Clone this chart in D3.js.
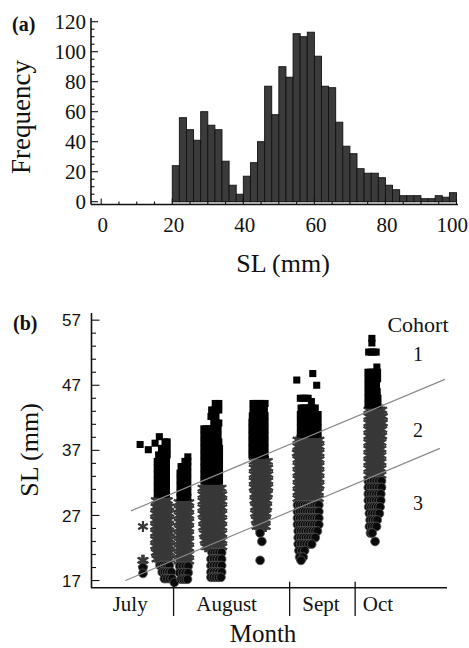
<!DOCTYPE html>
<html>
<head>
<meta charset="utf-8">
<script src="https://cdn.jsdelivr.net/npm/d3@7"></script>
<style>
  body { margin: 0; background: #fff; }
  text { fill: #111; }
</style>
</head>
<body>
<script>
// ---- panel (a): length frequency, 2 mm bins from 20 mm
const binStart = [20,22,24,26,28,30,32,34,36,38,40,42,44,46,48,50,52,54,56,58,
                  60,62,64,66,68,70,72,74,76,78,80,82,84,86,88,90,92,94,96,98];
const frequency = [24,56,48,41,60,51,48,27,11,5,17,26,40,77,58,90,83,112,110,113,
                   97,77,76,53,37,32,22,19,19,16,11,8,4,4,4,2,2,4,3,6];
const freqTicks = [0,20,40,60,80,100,120];
const slTicks = [0,20,40,60,80,100];

// ---- panel (b): SL by sampling position, rows are [SL, dxFrom, dxTo]
const sampleAt = [14.6, 19.4, 26.1, 34.3, 47.5, 61.0, 79.2];
const cohort1 = [
  [[37.9,-0.8,-0.8],[37.1,1.5,1.5]],
  [[39.1,-0.2,-0.2],[38.1,-1.4,-1.4],[38.3,1.4,2],[37.3,0.4,2],[36.3,-0.4,2],[35.3,-0.8,1.8],[34.3,-0.8,1.8],
   [33.3,-0.8,1.8],[32.3,-0.8,1.8],[31.3,-0.8,1.8],[30.3,-0.8,1.8]],
  [[36,1.1,1.1],[35.3,0.3,1.1],[34.5,-0.8,1.1],[33.5,-1.1,1.1],[32.5,-1.1,1.1],[31.5,-1.1,1.1],
   [30.5,-1.1,1.1],[29.8,-1.1,1.1]],
  [[44.2,0.6,1.6],[43.2,-0.4,1.6],[42.2,-0.6,0.8],[41.2,0.2,1.6],[40.3,-2.6,1.4],[39.3,-2.6,1.4],
   [38.3,-2.6,1.6],[37.3,-2.6,1.8],[36.3,-2.6,1.8],[35.3,-2.6,1.8],[34.3,-2.6,1.8],[33.3,-2.6,1.8],[32.3,-2.6,1.8]],
  [[44.2,-2,1.4],[43.2,-2,-0.4],[43.2,1.2,1.4],[42.3,-2.2,1.4],[41.3,-2.3,1.4],[40.3,-2.3,1.4],
   [39.3,-2.3,1.4],[38.3,-2.3,1.4],[37.3,-2.3,1.4],[36.3,-2.3,1.4]],
  [[48.8,1.3,1.3],[47.8,-3.2,-3.2],[47,2.4,2.4],[45,-2.2,0],[44.5,0.9,0.9],[43.5,-2,2],
   [42.5,-2.2,2.8],[41.5,-2.2,2.8],[40.5,-2.2,2.8],[39.5,-2.2,2.8]],
  [[54.2,-0.3,-0.3],[53.5,-0.3,-0.3],[52.1,-1.2,0.9],[49.8,1.1,1.3],[49,-1.4,1.3],[48,-1.4,1.3],
   [47,-1.4,1],[46,-1.4,1.2],[45,-1.4,1.4],[44,-1.4,1.4]]
];
const cohort2 = [
  [[25.3,0,0],[20.1,-0.2,0.2],[19.5,0,0]],
  [[29.3,-1.2,2.2],[28.3,-1.3,2.6],[27.3,-1.4,2.6],[26.3,-1.4,2.6],[25.3,-1.4,2.6],[24.3,-1.4,2.8],
   [23.3,-1.4,2.8],[22.3,-1.4,2.8],[21.3,-1.2,2.8],[20.3,-1,2.8]],
  [[29,-1.5,1.5],[28,-1.5,1.5],[27,-1.5,1.5],[26,-1.5,1.5],[25,-1.5,1.5],[24,-1.5,1.5],
   [23,-1.5,1.5],[22,-1.5,1.5],[21,-1.5,1.5],[20,-1.5,1.5]],
  [[31.2,-3,2.4],[30.2,-3,2.6],[29.2,-3,2.6],[28.2,-3,2.6],[27.2,-3,2.6],[26.2,-2.8,2.6],
   [25.2,-2.8,2.6],[24.2,-2.6,2.6],[23.2,-2.4,2.6],[22.2,-2.2,2.6]],
  [[35.3,-1.8,2.2],[34.3,-1.8,2.3],[33.3,-1.8,2.3],[32.3,-1.8,2.3],[31.3,-1.8,2.3],[30.3,-1.6,2.2],
   [29.3,-1.6,2],[28.3,-1.4,2],[27.3,-1.4,1.8],[26.3,-1.2,1.6],[25.3,-1,1.6]],
  [[38.6,-3,3.2],[37.6,-3,3.2],[36.6,-3.2,3.2],[35.6,-3,3.2],[34.6,-3,3.2],[33.6,-3,3.2],
   [32.6,-3,3.2],[31.6,-3,3.2],[30.6,-3,3],[29.6,-3,3]],
  [[43.2,-1.3,2.6],[42.2,-1.3,2.8],[41.2,-1.3,2.8],[40.2,-1.3,2.6],[39.2,-1.3,2.6],[38.2,-1.3,2.4],
   [37.2,-1.3,2.4],[36.2,-1.3,2.4],[35.2,-1.3,2.4],[34.2,-1.3,2.4],[33.2,-1.3,2.4]]
];
const cohort3 = [
  [[19,0,0],[18.1,0,0]],
  [[19.3,0,2.6],[18.3,0.6,3.2],[17.3,1.2,3.4],[16.7,4,4]],
  [[19.2,-1.2,1.2],[18.2,-1.2,1.2],[17.2,-0.8,1]],
  [[21.3,-0.3,2.4],[20.3,-0.6,2.4],[19.3,-0.6,2.4],[18.3,-0.6,2.4],[17.5,-0.6,2.2]],
  [[24.3,0,0],[23,0.5,0.5],[20.1,0,0]],
  [[28.6,-3,3],[27.6,-3,3],[26.6,-3,3],[25.6,-3,3],[24.6,-2.8,2.6],[23.6,-2.8,2],
   [22.6,-2.8,1],[21.6,-2.6,-1],[20.6,-2.4,-1.4],[20.1,-2,-2]],
  [[32.3,-1.3,2.4],[31.3,-1.3,2.4],[30.3,-1.3,2.2],[29.3,-1.3,2.2],[28.3,-1.2,2],[27.3,-1,1.8],
   [26.3,-0.8,1.2],[25.3,-1,1],[24.3,-0.7,-0.2],[23,0.6,0.6]]
];
const cohortLine1 = [[11.2, 27.7], [99.4, 47.9]];
const cohortLine2 = [[9.7, 17.0], [98.0, 37.3]];
const slTicksB = [17, 27, 37, 47, 57];
const monthBreaks = [23.2, 55.8, 74.2];
const monthNames = ["July", "August", "Sept", "Oct"];
const monthCenters = [11.0, 38.1, 64.6, 80.6];
const cohortNames = ["1", "2", "3"];
const cohortLabelSL = [50.8, 39.1, 27.8];

const serif = "'Liberation Serif', 'DejaVu Serif', serif";
const sans = "'Liberation Sans', Arial, sans-serif";

const svg = d3.select("body").append("svg")
  .attr("width", 469).attr("height", 648);

// ================= panel (a)
const xa = d3.scaleLinear().domain([0, 100]).range([101.2, 456.5]);
const ya = d3.scaleLinear().domain([0, 120]).range([201.7, 21.7]);
const axisYa = 204.5;
const ga = svg.append("g");

ga.append("rect")
  .attr("x", xa(20)).attr("y", ya(0))
  .attr("width", xa(100) - xa(20)).attr("height", axisYa - ya(0))
  .attr("fill", "#d4d4d4").attr("stroke", "#333").attr("stroke-width", 0.6);

ga.selectAll("rect.bar")
  .data(binStart.map((b, i) => ({ b, f: frequency[i] })))
  .enter().append("rect")
  .attr("class", "bar")
  .attr("x", d => xa(d.b))
  .attr("y", d => ya(d.f))
  .attr("width", d => xa(d.b + 2) - xa(d.b))
  .attr("height", d => ya(0) - ya(d.f))
  .attr("fill", "#3b3b3b")
  .attr("stroke", "#111")
  .attr("stroke-width", 0.9);

// axes lines
ga.append("line").attr("x1", 91).attr("x2", 91).attr("y1", 18).attr("y2", axisYa)
  .attr("stroke", "#111").attr("stroke-width", 1.6);
ga.append("line").attr("x1", 91).attr("x2", 458).attr("y1", axisYa).attr("y2", axisYa)
  .attr("stroke", "#111").attr("stroke-width", 1.6);

// y ticks, pointing inward
d3.range(0, 121, 5).forEach(v => {
  const major = v % 20 === 0;
  ga.append("line").attr("x1", 91).attr("x2", 91 + (major ? 7 : 3.5))
    .attr("y1", ya(v)).attr("y2", ya(v)).attr("stroke", "#111").attr("stroke-width", 1.1);
});
ga.selectAll("text.yt").data(freqTicks).enter().append("text")
  .attr("x", 86).attr("y", d => ya(d)).attr("dy", "0.35em")
  .attr("text-anchor", "end")
  .style("font-family", serif).style("font-size", "21px")
  .text(d => d);

// x ticks
d3.range(0, 101, 5).forEach(v => {
  const major = v % 20 === 0;
  ga.append("line").attr("x1", xa(v)).attr("x2", xa(v))
    .attr("y1", axisYa).attr("y2", axisYa - (major ? 6 : 3))
    .attr("stroke", "#111").attr("stroke-width", 1.1);
});
ga.selectAll("text.xt").data(slTicks).enter().append("text")
  .attr("x", d => d === 100 ? 468 : xa(d) + 1.5).attr("y", 232)
  .attr("text-anchor", d => d === 100 ? "end" : "middle")
  .style("font-family", serif).style("font-size", "21px")
  .text(d => d);

ga.append("text").attr("x", 283).attr("y", 272).attr("text-anchor", "middle")
  .style("font-family", serif).style("font-size", "26px").text("SL (mm)");
ga.append("text").attr("transform", "translate(30,117) rotate(-90)")
  .attr("text-anchor", "middle")
  .style("font-family", serif).style("font-size", "27px").text("Frequency");
ga.append("text").attr("x", 12).attr("y", 31)
  .style("font-family", serif).style("font-size", "20px").style("font-weight", "bold").text("(a)");

// ================= panel (b)
const xb = d3.scaleLinear().domain([0, 100]).range([91, 447]);
const yb = d3.scaleLinear().domain([15.9, 58.1]).range([587.7, 313]);
const gb = svg.append("g");

function expand(rowsBySample, step) {
  const pts = [];
  rowsBySample.forEach((rows, s) => {
    rows.forEach(([sl, d0, d1]) => {
      const n = Math.max(1, Math.round((d1 - d0) / step) + 1);
      for (let i = 0; i < n; i++) {
        const dx = n === 1 ? d0 : d0 + i * (d1 - d0) / (n - 1);
        pts.push({ x: sampleAt[s] + dx, sl });
      }
    });
  });
  return pts;
}

gb.selectAll("path.c2").data(expand(cohort2, 0.5)).enter().append("path")
  .attr("class", "c2")
  .attr("d", d3.symbol(d3.symbolAsterisk, 85))
  .attr("transform", d => `translate(${xb(d.x)},${yb(d.sl)})`)
  .attr("fill", "none").attr("stroke", "#383838").attr("stroke-width", 2.2);

gb.selectAll("path.c1").data(expand(cohort1, 0.7)).enter().append("path")
  .attr("class", "c1")
  .attr("d", d3.symbol(d3.symbolSquare, 50))
  .attr("transform", d => `translate(${xb(d.x)},${yb(d.sl)})`)
  .attr("fill", "#000");

gb.selectAll("circle.c3").data(expand(cohort3, 0.7)).enter().append("circle")
  .attr("class", "c3")
  .attr("cx", d => xb(d.x)).attr("cy", d => yb(d.sl)).attr("r", 4.4)
  .attr("fill", "#0a0a0a").attr("stroke", "#5a5a5a").attr("stroke-width", 0.8);

// cohort boundary lines
const line = d3.line().x(d => xb(d[0])).y(d => yb(d[1]));
[cohortLine1, cohortLine2].forEach(l => {
  gb.append("path").attr("d", line(l))
    .attr("fill", "none").attr("stroke", "#8a8a8a").attr("stroke-width", 1.2);
});

// axes
gb.append("line").attr("x1", 91.5).attr("x2", 91.5).attr("y1", 313).attr("y2", 587.7)
  .attr("stroke", "#111").attr("stroke-width", 1.6);
gb.append("line").attr("x1", 91).attr("x2", 447).attr("y1", 587.7).attr("y2", 587.7)
  .attr("stroke", "#111").attr("stroke-width", 1.6);

d3.range(17, 58, 2).forEach(v => {
  const major = (v - 17) % 10 === 0;
  gb.append("line").attr("x1", 91.5).attr("x2", 91.5 + (major ? 8 : 4.5))
    .attr("y1", yb(v)).attr("y2", yb(v)).attr("stroke", "#111").attr("stroke-width", 1.1);
});
gb.selectAll("text.yt").data(slTicksB).enter().append("text")
  .attr("x", 81).attr("y", d => yb(d)).attr("dy", "0.36em")
  .attr("text-anchor", "end")
  .style("font-family", sans).style("font-size", "17px")
  .text(d => d);

gb.selectAll("line.mb").data(monthBreaks).enter().append("line")
  .attr("x1", d => xb(d)).attr("x2", d => xb(d))
  .attr("y1", 581.7).attr("y2", 616)
  .attr("stroke", "#111").attr("stroke-width", 1.3);
gb.selectAll("text.mn").data(monthNames).enter().append("text")
  .attr("x", (d, i) => xb(monthCenters[i])).attr("y", 611)
  .attr("text-anchor", "middle")
  .style("font-family", serif).style("font-size", "21px")
  .text(d => d);

gb.append("text").attr("x", 263).attr("y", 642).attr("text-anchor", "middle")
  .style("font-family", serif).style("font-size", "25px").text("Month");
gb.append("text").attr("transform", "translate(38,450) rotate(-90)")
  .attr("text-anchor", "middle")
  .style("font-family", serif).style("font-size", "26px").text("SL (mm)");
gb.append("text").attr("x", 13).attr("y", 330)
  .style("font-family", serif).style("font-size", "20px").style("font-weight", "bold").text("(b)");

gb.append("text").attr("x", 418).attr("y", 331.7).attr("text-anchor", "middle")
  .style("font-family", serif).style("font-size", "22px").text("Cohort");
gb.selectAll("text.cn").data(cohortNames).enter().append("text")
  .attr("x", 418).attr("y", (d, i) => yb(cohortLabelSL[i]))
  .attr("text-anchor", "middle")
  .style("font-family", serif).style("font-size", "20px")
  .text(d => d);
</script>
</body>
</html>
